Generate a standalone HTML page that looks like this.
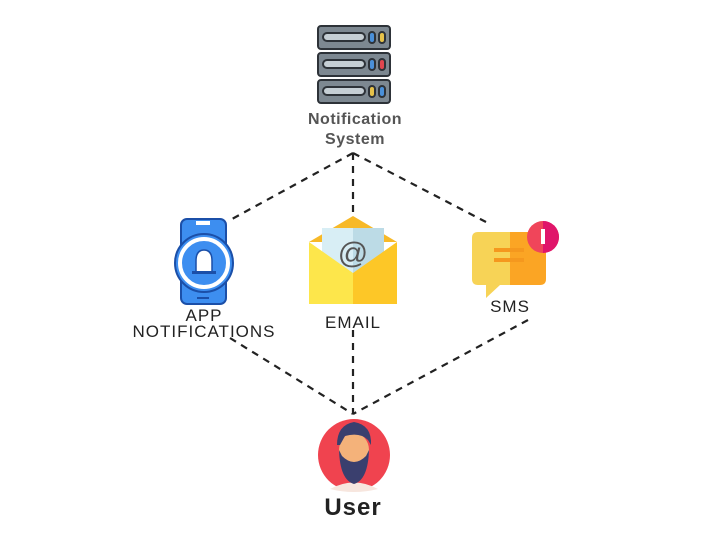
<!DOCTYPE html>
<html><head><meta charset="utf-8"><style>
html,body{margin:0;padding:0;background:#fff;width:708px;height:541px;overflow:hidden}
svg{display:block}
</style></head><body>
<svg width="708" height="541" viewBox="0 0 708 541" xmlns="http://www.w3.org/2000/svg">
<g stroke="#222" stroke-width="2.2" stroke-dasharray="7,6" fill="none">
<line x1="353" y1="153" x2="232" y2="219"/>
<line x1="353" y1="153" x2="353" y2="212"/>
<line x1="353" y1="153" x2="486" y2="222"/>
<line x1="230" y1="338" x2="353" y2="414"/>
<line x1="353" y1="330" x2="353" y2="414"/>
<line x1="528" y1="320" x2="353" y2="414"/>
</g>
<!-- server -->
<g stroke="#2d3238" stroke-width="2">
<rect x="318" y="26" width="72" height="23" rx="3" fill="#7d8891"/>
<rect x="318" y="53" width="72" height="23" rx="3" fill="#7d8891"/>
<rect x="318" y="80" width="72" height="23" rx="3" fill="#7d8891"/>
<rect x="323" y="33" width="42" height="8" rx="4" fill="#c5ced4"/>
<rect x="323" y="60" width="42" height="8" rx="4" fill="#c5ced4"/>
<rect x="323" y="87" width="42" height="8" rx="4" fill="#c5ced4"/>
<rect x="369" y="32" width="6" height="11" rx="3" fill="#4a90d9"/>
<rect x="379" y="32" width="6" height="11" rx="3" fill="#e6c24a"/>
<rect x="369" y="59" width="6" height="11" rx="3" fill="#4a90d9"/>
<rect x="379" y="59" width="6" height="11" rx="3" fill="#e0464f"/>
<rect x="369" y="86" width="6" height="11" rx="3" fill="#e6c24a"/>
<rect x="379" y="86" width="6" height="11" rx="3" fill="#4a90d9"/>
</g>
<g font-family="Liberation Sans, sans-serif" font-size="16" fill="#555" text-anchor="middle" font-weight="bold" letter-spacing="0.5">
<text x="355" y="124">Notification</text>
<text x="355" y="144">System</text>
</g>
<!-- phone -->
<rect x="181" y="219" width="45" height="85" rx="6" fill="#3d8ef0" stroke="#1b4fa8" stroke-width="2"/>
<rect x="196" y="221" width="14" height="4" fill="#fff"/>
<rect x="197" y="297" width="12" height="2" fill="#1b4fa8"/>
<circle cx="204" cy="263" r="29" fill="#3d8ef0" stroke="#1b4fa8" stroke-width="2"/>
<circle cx="204" cy="263" r="24" fill="none" stroke="#fff" stroke-width="4"/>
<path d="M196 272 L196 261 Q196 250 204 250 Q212 250 212 261 L212 272 Z" fill="#fff" stroke="#1b4fa8" stroke-width="1.5"/>
<rect x="192" y="271" width="24" height="3" fill="#1b4fa8"/>
<!-- envelope -->
<path d="M309 242 L353 216 L397 242 Z" fill="#f7b928"/>
<rect x="322" y="228" width="62" height="50" fill="#d8eef5"/>
<rect x="353" y="228" width="31" height="50" fill="#bcdbe6"/>
<text x="353" y="263" font-family="Liberation Sans, sans-serif" font-size="30" fill="#555" text-anchor="middle">@</text>
<path d="M309 242 L353 273 L353 304 L309 304 Z" fill="#fde64b"/>
<path d="M397 242 L353 273 L353 304 L397 304 Z" fill="#fdc727"/>
<!-- sms -->
<path d="M478 232 L510 232 L510 285 L500 285 L486 298 L486 285 L478 285 Q472 285 472 279 L472 238 Q472 232 478 232 Z" fill="#f7d356"/>
<path d="M510 232 L540 232 Q546 232 546 238 L546 279 Q546 285 540 285 L510 285 Z" fill="#fba524"/>
<rect x="494" y="248" width="30" height="4" fill="#f5981e"/>
<rect x="494" y="258" width="30" height="4" fill="#f5981e"/>
<circle cx="543" cy="237" r="16" fill="#f0455a"/>
<path d="M543 221 A16 16 0 0 1 543 253 Z" fill="#e0156a"/>
<rect x="541" y="229" width="4" height="15" fill="#fff"/>
<g font-family="Liberation Sans, sans-serif" font-size="17" fill="#222" text-anchor="middle" letter-spacing="1">
<text x="204" y="321">APP</text>
<text x="204" y="337">NOTIFICATIONS</text>
<text x="353" y="328">EMAIL</text>
<text x="510" y="312">SMS</text>
</g>
<!-- user -->
<circle cx="354" cy="455" r="36" fill="#f0434f"/>
<path d="M330 489 Q354 476 378 489 Q366 492 354 492 Q342 492 330 489 Z" fill="#f7e6de"/>
<ellipse cx="354" cy="450" rx="15" ry="17" fill="#f4b27a"/>
<path d="M337 445 Q337 425 354 422 Q372 425 371 445 L368 440 Q360 432 345 436 L340 445 Z" fill="#3a3f6e"/>
<path d="M339 450 Q340 480 354 484 Q368 480 369 450 L366 456 Q360 462 354 462 Q348 462 342 456 Z" fill="#3a3f6e"/>
<text x="353" y="515" font-family="Liberation Sans, sans-serif" font-size="24" font-weight="bold" fill="#222" text-anchor="middle" letter-spacing="1">User</text>
</svg>
</body></html>
